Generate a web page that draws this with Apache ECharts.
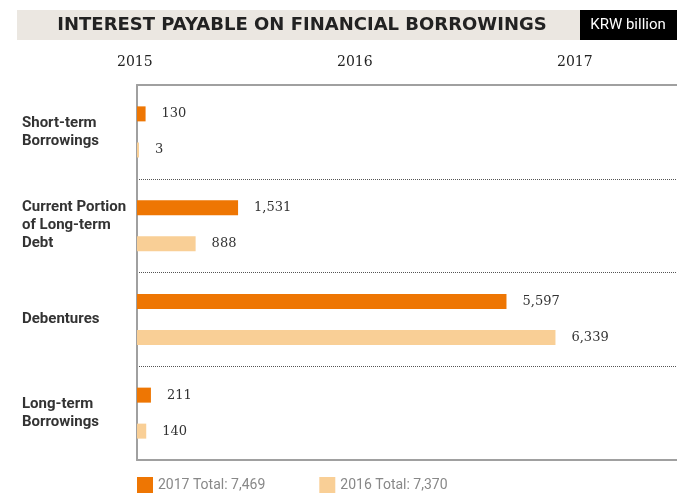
<!DOCTYPE html>
<html>
<head>
<meta charset="utf-8">
<script src="https://cdn.jsdelivr.net/npm/echarts@6/dist/echarts.min.js"></script>
<style>
  html, body { margin: 0; padding: 0; background: #fff; }
  #chart { width: 677px; height: 494px; }
</style>
</head>
<body>
<div id="chart"></div>
<script>
  // categories, top to bottom
  var categories = ['Short-term\nBorrowings', 'Current Portion\nof Long-term\nDebt', 'Debentures', 'Long-term\nBorrowings']
  var values2017 = [130, 1531, 5597, 211]
  var values2016 = [3, 888, 6339, 140]
  var seriesNames = ['2017', '2016']
  var totals = { '2017': 7469, '2016': 7370 }
  var yearLabels = ['2015', '2016', '2017']

  var chart = echarts.init(document.getElementById('chart'))
  var labelFont = 'Roboto'
  // 千位分隔
  var fmt = function (v) { return String(v).replace(/\B(?=(\d{3})+(?!\d))/g, ',') }

  // 年份文字（原图顶部）
  var yearText = yearLabels.map(function (y, i) {
    return {
      type: 'text',
      left: 117 + i * 220,
      top: 55,
      style: { text: y, fill: '#222', font: '14px "DejaVu Serif", serif' }
    }
  })

  var axisGray = { color: '#a0a0a0', width: 2 }

  var option = {
    animation: false,
    graphic: [
      { type: 'rect', shape: { x: 17, y: 10, width: 563, height: 30 }, style: { fill: '#ebe7e1' } },
      { type: 'rect', shape: { x: 580, y: 10, width: 97, height: 30 }, style: { fill: '#000' } },
      {
        type: 'text', x: 302, y: 25,
        style: {
          text: 'INTEREST PAYABLE ON FINANCIAL BORROWINGS',
          fill: '#222', font: 'bold 18px "DejaVu Sans"',
          align: 'center', verticalAlign: 'middle'
        }
      },
      {
        type: 'text', x: 628, y: 25,
        style: { text: 'KRW billion', fill: '#fff', font: '15px Roboto', align: 'center', verticalAlign: 'middle' }
      }
    ].concat(yearText),
    legend: {
      left: 137,
      top: 477,
      padding: 0,
      icon: 'rect',
      itemWidth: 16,
      itemHeight: 16,
      itemGap: 54,
      data: seriesNames,
      formatter: function (name) { return name + ' Total: ' + fmt(totals[name]) },
      textStyle: { color: '#888', fontSize: 14, fontFamily: labelFont }
    },
    // right 略小于0，让网格右边缘落在画布外
    grid: { left: 137, right: -2, top: 85, bottom: 34 },
    xAxis: [
      {
        type: 'value', min: 0, max: 8180, position: 'bottom',
        axisLine: { show: true, lineStyle: axisGray },
        axisTick: { show: false }, axisLabel: { show: false }, splitLine: { show: false }
      },
      {
        type: 'value', min: 0, max: 8180, position: 'top',
        axisLine: { show: true, lineStyle: axisGray },
        axisTick: { show: false }, axisLabel: { show: false }, splitLine: { show: false }
      }
    ],
    yAxis: {
      type: 'category',
      inverse: true,
      data: categories,
      axisLine: { show: true, onZero: false, lineStyle: axisGray },
      axisTick: { show: false },
      splitLine: { show: true, lineStyle: { color: '#555', type: 'dotted', width: 1 } },
      axisLabel: {
        align: 'left', margin: 115,
        color: '#333', fontSize: 15, fontWeight: 'bold', fontFamily: labelFont, lineHeight: 18
      }
    },
    series: [
      {
        name: seriesNames[0], type: 'bar', data: values2017,
        barWidth: 15, barGap: '140%',
        itemStyle: { color: '#ee7603' },
        label: { show: true, position: 'right', distance: 16, color: '#333', fontSize: 13,
          fontFamily: '"DejaVu Serif", serif', formatter: function (p) { return fmt(p.value) } }
      },
      {
        name: seriesNames[1], type: 'bar', data: values2016,
        barWidth: 15, barGap: '140%', barMinHeight: 2,
        itemStyle: { color: '#f9cf96' },
        label: { show: true, position: 'right', distance: 16, color: '#333', fontSize: 13,
          fontFamily: '"DejaVu Serif", serif', formatter: function (p) { return fmt(p.value) } }
      }
    ]
  }
  chart.setOption(option)
</script>
</body>
</html>
